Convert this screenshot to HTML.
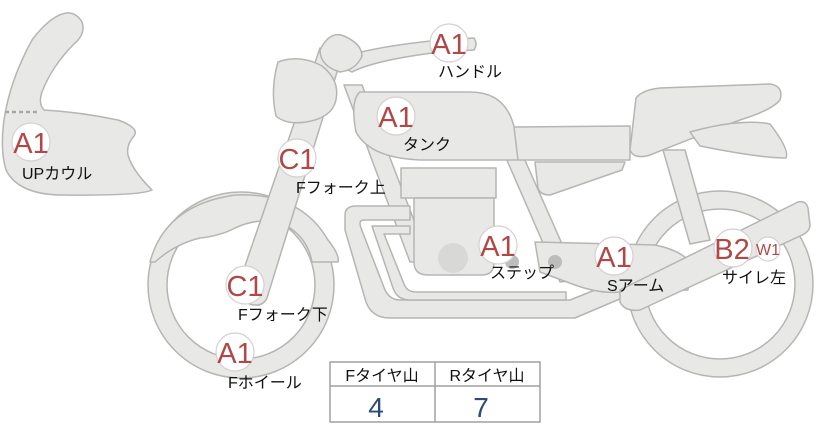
<!DOCTYPE html>
<html><head><meta charset="utf-8"><style>
html,body{margin:0;padding:0;background:#fff;}
svg{display:block;}
text{font-family:"Liberation Sans","Noto Sans CJK JP",sans-serif;}
</style></head><body>
<svg width="822" height="425" viewBox="0 0 822 425" xmlns="http://www.w3.org/2000/svg">
<g fill="#e8e8e6" stroke="#b5b5b3" stroke-width="1.5" stroke-linejoin="round">
<path d="M66,13 Q76,12 82,22 Q86,34 74,44 Q52,66 42,92 Q38,104 44,110 Q80,112 118,120 Q140,128 134,136 Q126,145 128,155 Q132,170 152,190 Q140,196 60,195 Q18,194 6,170 Q0,150 4,120 Q10,80 32,40 Q50,16 66,13 Z"/>
<path fill-rule="evenodd" d="M627,284 a93,93 0 1,0 186,0 a93,93 0 1,0 -186,0 Z M645,284 a75,75 0 1,0 150,0 a75,75 0 1,0 -150,0 Z"/>
<path fill-rule="evenodd" d="M148,285 a93,93 0 1,0 186,0 a93,93 0 1,0 -186,0 Z M167,285 a74,74 0 1,0 148,0 a74,74 0 1,0 -148,0 Z"/>
<path d="M150,262 Q165,205 235,195 Q300,192 328,240 Q340,255 338,262 L312,262 Q308,240 290,228 Q265,214 235,228 Q220,236 200,238 Q175,244 155,262 Z"/>
<path d="M663,150 L685,150 L710,240 L690,244 Z"/>
<path d="M344,85 L362,85 L430,262 L410,262 Z"/>
<path d="M506,158 L524,158 L578,280 L560,282 Z"/>
<path d="M345,215 Q345,206 356,206 L410,206 L410,220 L364,220 Q358,220 361,228 L385,290 Q390,300 400,300 L570,300 L615,282 L622,298 L575,318 L390,318 Q372,318 366,302 L345,230 Z"/>
<path d="M372,226 L410,226 L410,234 L384,234 L404,284 Q407,292 416,292 L566,292 L566,300 L410,300 Q397,300 393,288 Z"/>
<path d="M535,242 L655,245 Q680,250 690,262 L688,290 L620,292 Q600,294 575,285 L540,272 Z"/>
<path d="M620,290 L798,202 Q806,200 808,208 L810,225 Q810,232 800,236 L640,310 Q625,312 620,302 Z"/>
<path d="M401,168 L496,168 L496,198 L401,198 Z"/>
<path d="M414,198 L494,198 L494,262 Q494,275 482,275 L428,275 Q414,275 414,262 Z"/>
<path d="M320,48 L342,56 L267,298 Q262,308 250,304 L240,300 Q236,292 238,286 Z"/>
<path d="M330,62 Q360,48 440,40 L474,38 Q478,44 474,50 L440,52 Q375,60 352,72 Z"/>
<path d="M278,62 Q300,54 322,66 Q340,80 336,100 Q332,118 306,122 Q286,125 276,116 Q270,90 278,62 Z"/>
<path d="M320,50 Q330,30 344,36 Q362,44 362,56 Q356,70 340,72 Q320,66 320,50 Z"/>
<path d="M360,92 L470,92 Q502,92 512,120 Q522,150 518,160 L420,160 Q370,158 356,132 Q350,100 360,92 Z"/>
<path d="M514,127 L630,126 L630,160 L518,160 Z"/>
<path d="M636,98 Q642,90 660,88 L770,84 Q784,86 780,100 Q772,110 740,120 Q700,135 650,155 Q634,160 630,150 Z"/>
<path d="M690,132 Q740,118 770,124 Q790,150 786,158 Q760,158 700,146 Z"/>
<path d="M535,162 L625,162 L622,170 L550,195 Q540,195 538,188 Z"/>
</g>
<circle cx="453" cy="258" r="15" fill="#d8d8d6"/>
<circle cx="512" cy="262" r="7" fill="#bdbdbb"/>
<circle cx="555" cy="262" r="7" fill="#bdbdbb"/>
<line x1="5" y1="112" x2="40" y2="112" stroke="#a8a8a8" stroke-width="2.5" stroke-dasharray="4,3"/>
<g fill="#fff" stroke="#d8d0d0" stroke-width="1.2">
<circle cx="31" cy="142" r="19"/><circle cx="449" cy="43" r="19"/><circle cx="297" cy="158" r="19"/>
<circle cx="396" cy="116" r="19"/><circle cx="498" cy="245" r="19"/><circle cx="614" cy="256" r="19"/>
<circle cx="733" cy="248" r="19"/><circle cx="768" cy="249" r="12"/><circle cx="245" cy="285" r="19"/>
<circle cx="235" cy="352" r="19"/>
</g>
<g fill="#b04848" font-size="29" text-anchor="middle">
<text x="31" y="153">A1</text><text x="449" y="54">A1</text><text x="297" y="169">C1</text>
<text x="396" y="127">A1</text><text x="498" y="256">A1</text><text x="614" y="267">A1</text>
<text x="732" y="259">B2</text><text x="245" y="296">C1</text><text x="235" y="363">A1</text>
<text x="768" y="255" font-size="16">W1</text>
</g>
<g fill="#111" font-size="16">
<text x="22" y="179">UPカウル</text><text x="438" y="77">ハンドル</text><text x="403" y="150">タンク</text>
<text x="296" y="193">Fフォーク上</text><text x="490" y="278">ステップ</text><text x="607" y="291">Sアーム</text>
<text x="722" y="283">サイレ左</text><text x="238" y="320">Fフォーク下</text><text x="228" y="388">Fホイール</text>
</g>
<g fill="none" stroke="#a0a0a0" stroke-width="1.5">
<rect x="330" y="362" width="210" height="60"/>
<line x1="330" y1="386" x2="540" y2="386"/><line x1="435" y1="362" x2="435" y2="422"/>
</g>
<g font-size="16" fill="#111" text-anchor="middle"><text x="382" y="381">Fタイヤ山</text><text x="487" y="381">Rタイヤ山</text></g>
<g font-size="28" fill="#2d4a7c" text-anchor="middle"><text x="376" y="417">4</text><text x="481" y="417">7</text></g>
</svg>
</body></html>
